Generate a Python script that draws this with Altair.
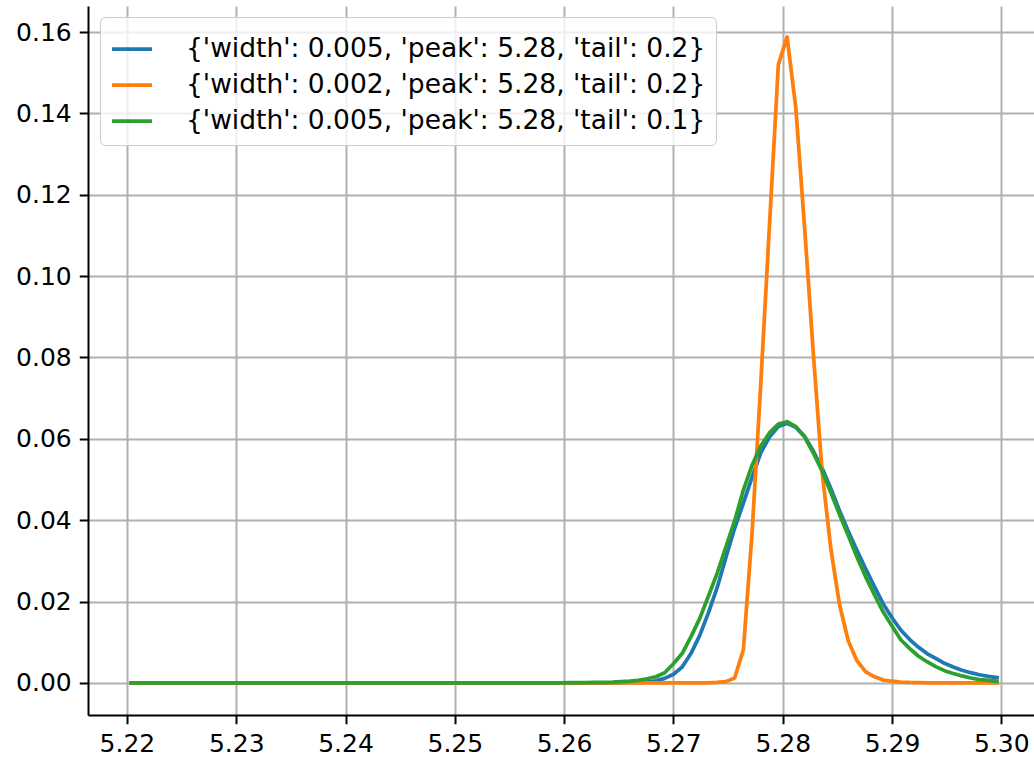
import altair as alt
import pandas as pd

# sample positions (bin centres: 5.2204 ... 5.2996, step 0.0008)
x_values = [round(5.2204 + 0.0008 * k, 4) for k in range(100)]

labels = [
    "{'width': 0.005, 'peak': 5.28, 'tail': 0.2}",
    "{'width': 0.002, 'peak': 5.28, 'tail': 0.2}",
    "{'width': 0.005, 'peak': 5.28, 'tail': 0.1}",
]
colors = ["#1f77b4", "#ff7f0e", "#2ca02c"]

blue_values = [0.0] * 55 + [
    0.00002, 0.00005, 0.0001, 0.0001, 0.0002, 0.0005, 0.0011, 0.0021, 0.0039, 0.0072,
    0.0116, 0.0172, 0.0234, 0.0308, 0.0380, 0.0442, 0.0506, 0.0566, 0.0605, 0.0630,
    0.0638, 0.0628, 0.0606, 0.0570, 0.0528, 0.0478, 0.0423, 0.0373, 0.0325, 0.0280,
    0.0236, 0.0194, 0.0160, 0.0130, 0.0107, 0.0088, 0.0072, 0.0060, 0.0048, 0.0039,
    0.0031, 0.0025, 0.0020, 0.0016, 0.0013,
]
orange_values = [0.0] * 67 + [
    0.0001, 0.0003, 0.0012, 0.0081, 0.037, 0.074, 0.113, 0.152, 0.1588, 0.1413,
    0.112, 0.081, 0.052, 0.033, 0.0192, 0.0103, 0.0054, 0.0027, 0.0015, 0.0007,
    0.0004, 0.0002, 0.0001, 0.00005,
] + [0.0] * 9
green_values = [0.0] * 48 + [
    0.00001, 0.00002, 0.00003, 0.00005, 0.00007, 0.0001, 0.00015, 0.0002, 0.0003, 0.0004,
    0.0006, 0.0010, 0.0015, 0.0025, 0.0047, 0.0072, 0.0113, 0.0158, 0.0213, 0.0269,
    0.0334, 0.0398, 0.0474, 0.0535, 0.0583, 0.0615, 0.0636, 0.0642, 0.0630, 0.0605,
    0.0565, 0.0521, 0.0468, 0.0414, 0.0362, 0.0309, 0.0260, 0.0216, 0.0174, 0.0140,
    0.0106, 0.0085, 0.0066, 0.0052, 0.0040, 0.0030, 0.0023, 0.0017, 0.0012, 0.0008,
    0.0006, 0.0004,
]

x_ticks = [5.22, 5.23, 5.24, 5.25, 5.26, 5.27, 5.28, 5.29, 5.30]
y_ticks = [0.0, 0.02, 0.04, 0.06, 0.08, 0.10, 0.12, 0.14, 0.16]

series = [blue_values, orange_values, green_values]
frames = []
for lab, vals in zip(labels, series):
    frames.append(pd.DataFrame({"x": x_values, "y": vals, "series": lab}))

FONT = "DejaVu Sans"
FS = 25

x_enc = alt.X(
    "x:Q",
    scale=alt.Scale(domain=[5.21644, 5.30299], nice=False, zero=False),
    axis=alt.Axis(values=x_ticks, format=".2f", title=None),
)
y_enc = alt.Y(
    "y:Q",
    scale=alt.Scale(domain=[-0.0079, 0.1664], nice=False, zero=False),
    axis=alt.Axis(values=y_ticks, format=".2f", title=None),
)
color_enc = alt.Color(
    "series:N",
    scale=alt.Scale(domain=labels, range=colors),
    legend=alt.Legend(
        title=None,
        orient="none",
        legendX=12,
        legendY=11,
        symbolType="stroke",
        symbolSize=1600,
        symbolStrokeWidth=3.75,
        labelFont=FONT,
        labelFontSize=26.5,
        labelColor="#000000",
        labelLimit=0,
        labelOffset=32,
        rowPadding=-3,
        padding=10,
        fillColor="rgba(255,255,255,0.8)",
        strokeColor="#cccccc",
        cornerRadius=5,
    ),
)

layers = []
for df in frames:
    layers.append(
        alt.Chart(df)
        .mark_line(strokeWidth=3.75, strokeCap="square", strokeJoin="round", clip=True)
        .encode(x=x_enc, y=y_enc, color=color_enc)
    )

chart = (
    alt.layer(*layers)
    .properties(
        width=946,
        height=709,
        autosize=alt.AutoSizeParams(type="none"),
        padding={"left": 88, "top": 6, "right": 0, "bottom": 46},
    )
    .configure_view(stroke=None)
    .configure_axis(
        labelFont=FONT,
        labelFontSize=FS,
        labelColor="#000000",
        domainColor="#000000",
        domainWidth=2,
        tickColor="#000000",
        tickWidth=2,
        tickSize=8.75,
        labelPadding=8,
        grid=True,
        gridColor="#b0b0b0",
        gridWidth=2,
    )
    .configure_axisX(labelAngle=0)
)

chart.save("out.html", embed_options={"renderer": "svg", "actions": False})
